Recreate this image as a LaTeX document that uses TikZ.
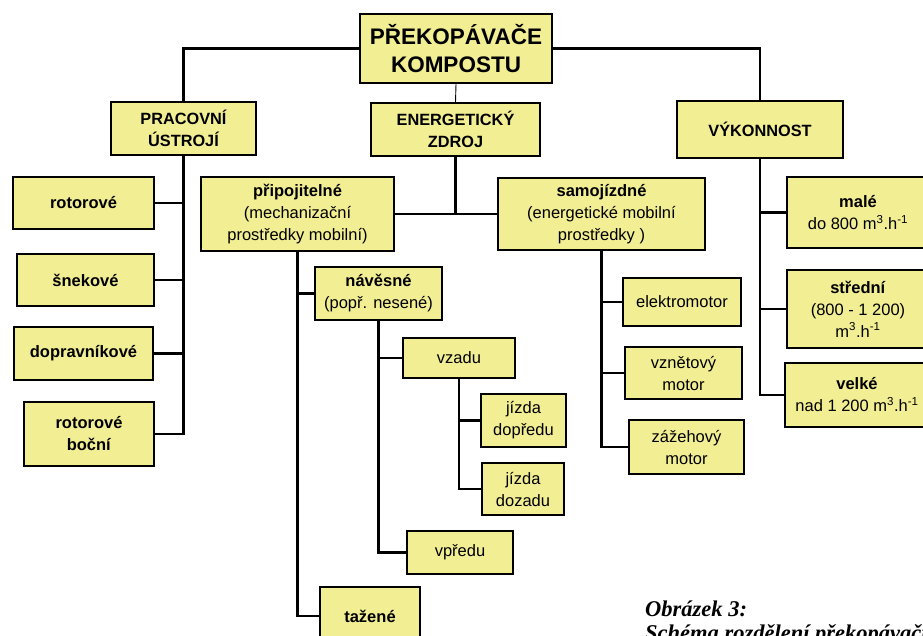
\documentclass[tikz,border=0pt]{standalone}
\usepackage{fontspec}
\setmainfont{Liberation Sans}
\newfontfamily\capfont{Liberation Serif}
\definecolor{boxfill}{RGB}{242,238,148}
\begin{document}
\begin{tikzpicture}[x=1pt,y=-1pt,
  box/.style={draw=black, line width=1.8pt, fill=boxfill, align=center, inner sep=0pt,
    font=\fontsize{16.5}{22}\selectfont},
  capsbox/.style={box, font=\fontsize{16.3}{22}\selectfont\bfseries},
  conn/.style={line width=2.7pt, line join=miter},
  thinconn/.style={line width=0.9pt},
  captext/.style={anchor=base west, inner sep=0pt, font=\capfont\fontsize{22.5}{24}\selectfont\bfseries\itshape}]
\useasboundingbox (0,0) rectangle (923,635);
\clip (0,0) rectangle (923,635);
% level 0
\node[box, minimum width=192pt, minimum height=69pt, font=\fontsize{22.5}{28}\selectfont\bfseries] (top) at (456,48.5) {PŘEKOPÁVAČE\\KOMPOSTU};
% level 1
\node[capsbox, minimum width=145pt, minimum height=53pt] (prac) at (183.5,128.5) {PRACOVNÍ\\ÚSTROJÍ};
\node[capsbox, minimum width=169pt, minimum height=53pt] (energ) at (455.5,129.5) {ENERGETICKÝ\\ZDROJ};
\node[capsbox, minimum width=166pt, minimum height=57pt] (vyk) at (760,129.5) {VÝKONNOST};
% left column
\node[box, minimum width=141pt, minimum height=52pt] (rot) at (83.5,203) {\textbf{rotorové}};
\node[box, minimum width=137pt, minimum height=52pt] (snek) at (85.5,280) {\textbf{šnekové}};
\node[box, minimum width=139pt, minimum height=53pt] (dopr) at (83.5,353.5) {\textbf{dopravníkové}};
\node[box, minimum width=130pt, minimum height=64pt] (rotb) at (89,434) {\textbf{rotorové}\\\textbf{boční}};
% energy source
\node[box, minimum width=193pt, minimum height=74pt] (pripoj) at (297.5,214) {\textbf{připojitelné}\\(mechanizační\\prostředky mobilní)};
\node[box, minimum width=207pt, minimum height=72pt] (samo) at (601.5,214) {\textbf{samojízdné}\\(energetické mobilní\\prostředky )};
\node[box, minimum width=127pt, minimum height=53pt] (naves) at (378.5,293.5) {\textbf{návěsné}\\(popř. nesené)};
\node[box, minimum width=112pt, minimum height=40pt] (vzadu) at (459,358) {vzadu};
\node[box, minimum width=85pt, minimum height=53pt] (jdop) at (523.5,420.5) {jízda\\dopředu};
\node[box, minimum width=82pt, minimum height=52pt] (jdoz) at (523,489) {jízda\\dozadu};
\node[box, minimum width=106pt, minimum height=43pt] (vpredu) at (460,552.5) {vpředu};
\node[box, minimum width=100pt, minimum height=58pt] (tazene) at (370,616) {\textbf{tažené}};
\node[box, minimum width=118pt, minimum height=48pt] (elek) at (682,302) {elektromotor};
\node[box, minimum width=117pt, minimum height=52pt] (vzn) at (683.5,373) {vznětový\\motor};
\node[box, minimum width=115pt, minimum height=54pt] (zaz) at (686.5,447) {zážehový\\motor};
% output
\node[box, minimum width=142pt, minimum height=71pt] (male) at (858,212.5) {\textbf{malé}\\do 800 m\textsuperscript{3}.h\textsuperscript{-1}};
\node[box, minimum width=142pt, minimum height=78pt] (stred) at (858,309) {\textbf{střední}\\(800 - 1 200)\\m\textsuperscript{3}.h\textsuperscript{-1}};
\node[box, minimum width=144pt, minimum height=64pt] (velke) at (857,395) {\textbf{velké}\\nad 1 200 m\textsuperscript{3}.h\textsuperscript{-1}};
% connectors
\draw[conn] (top.west) -| (prac.north);
\draw[conn] (top.east) -| (vyk.north);
\draw[thinconn] (top.south) -- (energ.north);
\draw[conn] (prac.south) |- (rotb.east);
\draw[conn] (rot.east) -- (rot.east -| prac.south);
\draw[conn] (snek.east) -- (snek.east -| prac.south);
\draw[conn] (dopr.east) -- (dopr.east -| prac.south);
\draw[conn] (energ.south) -- (energ.south |- pripoj.east);
\draw[conn] (pripoj.east) -- (samo.west);
\draw[conn] (pripoj.south) |- (tazene.west);
\draw[conn] (naves.west) -- (naves.west -| pripoj.south);
\draw[conn] (naves.south) |- (vpredu.west);
\draw[conn] (vzadu.west) -- (vzadu.west -| naves.south);
\draw[conn] (vzadu.south) |- (jdoz.west);
\draw[conn] (jdop.west) -- (jdop.west -| vzadu.south);
\draw[conn] (samo.south) |- (zaz.west);
\draw[conn] (elek.west) -- (elek.west -| samo.south);
\draw[conn] (vzn.west) -- (vzn.west -| samo.south);
\draw[conn] (vyk.south) |- (velke.west);
\draw[conn] (male.west) -- (male.west -| vyk.south);
\draw[conn] (stred.west) -- (stred.west -| vyk.south);
% caption
\node[captext] (cap1) at (645,616) {Obrázek 3:};
\node[captext] (cap2) at (645,640) {Schéma rozdělení překopávačů kompostu};
\end{tikzpicture}
\end{document}
